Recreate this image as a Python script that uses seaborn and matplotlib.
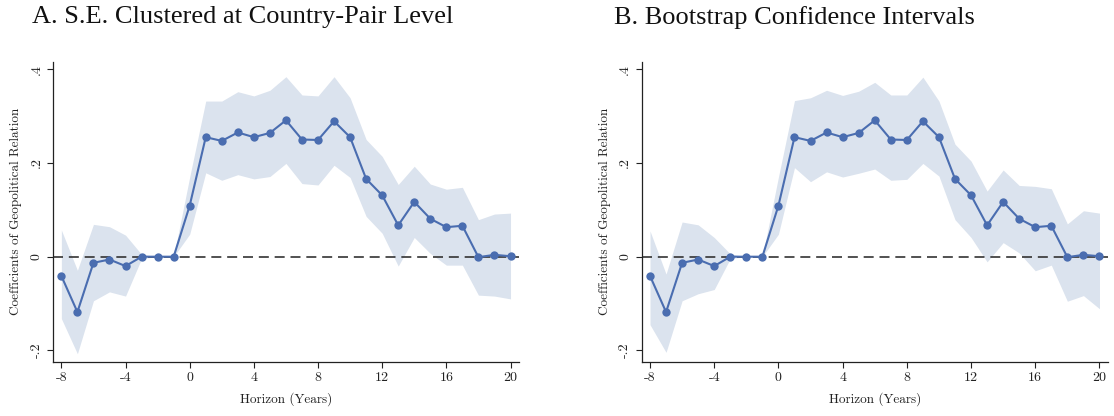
# Event-study style coefficients: two panels, same estimates, different CIs
import numpy as np
import pandas as pd
import matplotlib
matplotlib.use("Agg")
import matplotlib.pyplot as plt
import seaborn as sns

# ==========================
# Data
# ==========================

horizon = list(range(-8, 21))

coef = [-0.041, -0.118, -0.013, -0.006, -0.020, 0.0, 0.0, 0.0, 0.109,
        0.255, 0.247, 0.265, 0.255, 0.264, 0.291, 0.250, 0.249, 0.289,
        0.255, 0.166, 0.131, 0.067, 0.117, 0.081, 0.063, 0.066, -0.001,
        0.004, 0.001]

# Panel A: clustered s.e. bands
ci_hi_a = [0.057, -0.029, 0.069, 0.064, 0.046, 0.005, 0.0, 0.0, 0.170,
           0.332, 0.332, 0.352, 0.343, 0.355, 0.384, 0.345, 0.343, 0.384,
           0.339, 0.250, 0.214, 0.154, 0.193, 0.155, 0.144, 0.148, 0.079,
           0.091, 0.093]
ci_lo_a = [-0.132, -0.207, -0.094, -0.075, -0.084, -0.004, 0.0, 0.0, 0.048,
           0.179, 0.163, 0.175, 0.166, 0.171, 0.199, 0.156, 0.153, 0.195,
           0.169, 0.086, 0.050, -0.020, 0.041, 0.007, -0.018, -0.018, -0.082,
           -0.084, -0.090]

# Panel B: bootstrap bands
ci_hi_b = [0.055, -0.037, 0.074, 0.068, 0.041, 0.006, 0.0, 0.0, 0.170,
           0.333, 0.339, 0.355, 0.344, 0.353, 0.372, 0.345, 0.345, 0.383,
           0.332, 0.240, 0.204, 0.140, 0.185, 0.152, 0.150, 0.145, 0.070,
           0.098, 0.093]
ci_lo_b = [-0.145, -0.204, -0.094, -0.079, -0.070, -0.004, 0.0, 0.0, 0.048,
           0.190, 0.160, 0.181, 0.170, 0.178, 0.187, 0.163, 0.165, 0.199,
           0.172, 0.079, 0.041, -0.011, 0.030, 0.008, -0.030, -0.018, -0.095,
           -0.083, -0.111]

titles = ["A. S.E. Clustered at Country-Pair Level",
          "B. Bootstrap Confidence Intervals"]
x_ticks = [-8, -4, 0, 4, 8, 12, 16, 20]
y_ticks = [-0.2, 0, 0.2, 0.4]
y_tick_labels = ["-.2", "0", ".2", ".4"]

# ==========================
# Style
# ==========================

sns.set_style("ticks")
plt.rcParams["font.family"] = ["cmr10", "DejaVu Serif"]
plt.rcParams["axes.unicode_minus"] = False
plt.rcParams["axes.formatter.use_mathtext"] = True

line_color = "#4a6db0"
band_color = "#dbe3ee"

fig = plt.figure(figsize=(11.14, 4.16), dpi=100)
positions = [[0.0476, 0.1305, 0.4183, 0.7212],
             [0.5760, 0.1305, 0.4186, 0.7212]]
bands = [(ci_lo_a, ci_hi_a), (ci_lo_b, ci_hi_b)]
title_x = [0.029, 0.551]

for i in range(2):
    ax = fig.add_axes(positions[i])
    df = pd.DataFrame({"horizon": horizon, "coef": coef,
                       "lo": bands[i][0], "hi": bands[i][1]})

    ax.fill_between(df["horizon"], df["lo"], df["hi"],
                    color=band_color, linewidth=0, zorder=1)
    ax.axhline(0, color="#333333", linestyle=(0, (6, 3.5)), linewidth=1.2, zorder=2)
    sns.lineplot(data=df, x="horizon", y="coef", ax=ax, color=line_color,
                 marker="o", markersize=6, markeredgewidth=0,
                 linewidth=1.5, zorder=3)

    ax.set_xlim(-8.52, 20.53)
    ax.set_ylim(-0.224, 0.416)
    ax.set_xticks(x_ticks)
    ax.set_xticklabels([str(t) for t in x_ticks])
    ax.set_yticks(y_ticks)
    ax.set_yticklabels(y_tick_labels, rotation=90, va="center")
    ax.tick_params(axis="both", labelsize=10, length=4, width=0.8,
                   color="#222222", labelcolor="#222222")
    ax.set_xlabel("Horizon (Years)", fontsize=9.5, color="#222222", labelpad=6)
    ax.set_ylabel("Coefficients of Geopolitical Relation", fontsize=9.5,
                  color="#222222", labelpad=6)
    sns.despine(ax=ax)
    for s in ["left", "bottom"]:
        ax.spines[s].set_linewidth(0.9)
        ax.spines[s].set_color("#222222")

    fig.text(title_x[i], 0.985, titles[i], fontsize=19, va="top", ha="left",
             family=["Liberation Serif"], color="#111111")

fig.savefig("out.png", dpi=100)
